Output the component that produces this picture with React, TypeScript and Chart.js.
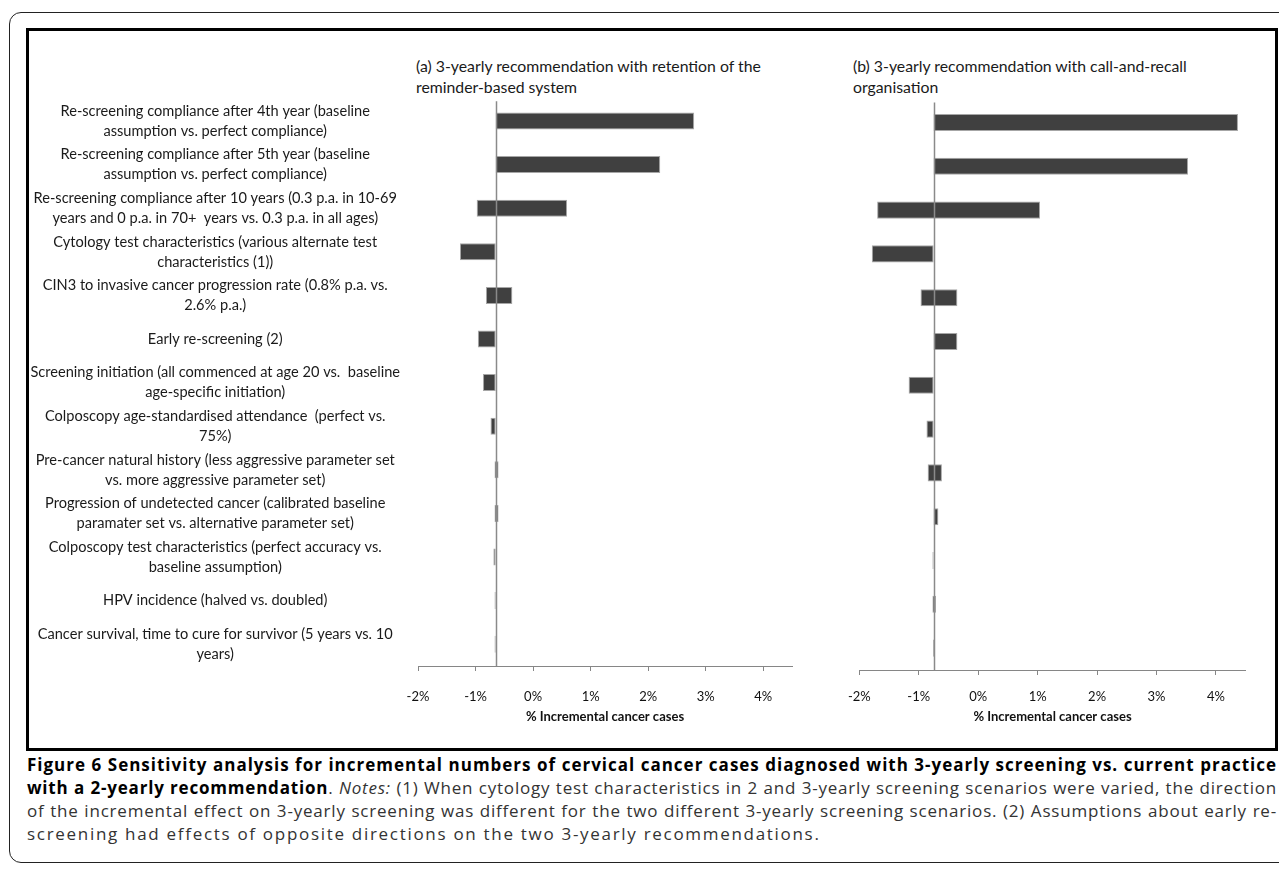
import React, { useEffect, useLayoutEffect, useRef } from 'react';
import { Chart, registerables } from 'chart.js';

Chart.register(...registerables);

// ---------- data ----------
const CATEGORIES: string[][] = [
  ['Re-screening compliance after 4th year (baseline', 'assumption vs. perfect compliance)'],
  ['Re-screening compliance after 5th year (baseline', 'assumption vs. perfect compliance)'],
  ['Re-screening compliance after 10 years (0.3 p.a. in 10-69', 'years and 0 p.a. in 70+  years vs. 0.3 p.a. in all ages)'],
  ['Cytology test characteristics (various alternate test', 'characteristics (1))'],
  ['CIN3 to invasive cancer progression rate (0.8% p.a. vs.', '2.6% p.a.)'],
  ['Early re-screening (2)'],
  ['Screening initiation (all commenced at age 20 vs.  baseline', 'age-specific initiation)'],
  ['Colposcopy age-standardised attendance  (perfect vs.', '75%)'],
  ['Pre-cancer natural history (less aggressive parameter set', 'vs. more aggressive parameter set)'],
  ['Progression of undetected cancer (calibrated baseline', 'paramater set vs. alternative parameter set)'],
  ['Colposcopy test characteristics (perfect accuracy vs.', 'baseline assumption)'],
  ['HPV incidence (halved vs. doubled)'],
  ['Cancer survival, time to cure for survivor (5 years vs. 10', 'years)'],
];

// (a) retention of the reminder-based system (% incremental cancer cases)
const A_BASE = -0.65;
const A_LOW = [-0.65, -0.65, -0.98, -1.27, -0.82, -0.96, -0.87, -0.74, -0.67, -0.67, -0.69, -0.67, -0.67];
const A_HIGH = [2.8, 2.21, 0.59, -0.65, -0.36, -0.65, -0.65, -0.65, -0.6, -0.6, -0.65, -0.65, -0.65];

// (b) call-and-recall organisation
const B_BASE = -0.75;
const B_LOW = [-0.75, -0.75, -1.7, -1.79, -0.97, -0.75, -1.17, -0.87, -0.85, -0.75, -0.77, -0.77, -0.76];
const B_HIGH = [4.37, 3.53, 1.04, -0.75, -0.35, -0.35, -0.75, -0.75, -0.61, -0.67, -0.75, -0.71, -0.745];

const X_MIN = -2;
const X_MAX = 4.5;
const X_STEP = 1;

const TITLE_A = ['(a) 3-yearly recommendation with retention of the', 'reminder-based system'];
const TITLE_B = ['(b) 3-yearly recommendation with call-and-recall', 'organisation'];
const X_TITLE = '% Incremental cancer cases';

const FONT = 'Lato, "Open Sans", sans-serif';

const baseLinePlugin = {
  id: 'baseLine',
  afterDatasetsDraw(chart: any, _args: any, opts: any) {
    const x = chart.scales.x.getPixelForValue(opts.value);
    const { top, bottom } = chart.chartArea;
    const ctx = chart.ctx;
    ctx.save();
    ctx.strokeStyle = opts.color || '#8a8a8a';
    ctx.lineWidth = opts.width || 1.5;
    ctx.beginPath();
    ctx.moveTo(Math.round(x) + 0.5, top + 2);
    ctx.lineTo(Math.round(x) + 0.5, bottom);
    ctx.stroke();
    ctx.restore();
  },
};

type TP = {
  low: number[];
  high: number[];
  base: number;
  showLabels: boolean;
  left: number;
  top: number;
  width: number;
  height: number;
  padding: { left: number; right: number; top: number; bottom: number };
  yWidth: number;
  xHeight: number;
  tickPad: number;
};

function Tornado(p: TP) {
  const ref = useRef<HTMLCanvasElement | null>(null);
  useEffect(() => {
    if (!ref.current) return;
    const data = p.low.map((l, i) => [l, p.high[i]]);
    const chart = new Chart(ref.current, {
      type: 'bar',
      data: {
        labels: CATEGORIES as any,
        datasets: [
          {
            data: data as any,
            backgroundColor: '#404040',
            borderColor: '#a6a6a6',
            borderWidth: 1,
            borderSkipped: false,
            categoryPercentage: 1,
            barPercentage: 0.39,
          },
        ],
      },
      options: {
        indexAxis: 'y',
        responsive: false,
        animation: false,
        devicePixelRatio: 1,
        layout: { padding: p.padding },
        plugins: {
          legend: { display: false },
          tooltip: { enabled: false },
          title: { display: false },
          baseLine: { value: p.base, color: '#8a8a8a', width: 1.5 },
        } as any,
        scales: {
          x: {
            type: 'linear',
            min: X_MIN,
            max: X_MAX,
            afterFit: (s: any) => {
              s.height = p.xHeight;
            },
            ticks: {
              stepSize: X_STEP,
              includeBounds: false,
              padding: p.tickPad,
              color: '#111',
              font: { family: FONT, size: 13 },
              callback: (v: any) => v + '%',
            },
            grid: {
              display: true,
              drawOnChartArea: false,
              drawTicks: true,
              tickLength: 5,
              color: '#868686',
            },
            border: { display: true, color: '#868686', width: 1 },
            title: {
              display: true,
              text: X_TITLE,
              color: '#111',
              font: { family: FONT, size: 13, weight: 'bold' },
              padding: { top: 0, bottom: 0 },
            },
          },
          y: {
            type: 'category',
            display: p.showLabels,
            afterFit: (s: any) => {
              s.width = p.yWidth;
              s.paddingTop = 0;
              s.paddingBottom = 0;
            },
            ticks: {
              crossAlign: 'center',
              padding: 18,
              color: '#1a1a1a',
              font: { family: FONT, size: 14.6, lineHeight: '20px' as any },
              autoSkip: false,
            },
            grid: { display: false, drawTicks: false },
            border: { display: false },
          },
        },
      },
      plugins: [baseLinePlugin],
    } as any);
    return () => chart.destroy();
  }, []);
  return (
    <div style={{ position: 'absolute', left: p.left, top: p.top, width: p.width, height: p.height }}>
      <canvas ref={ref} width={p.width} height={p.height} style={{ display: 'block' }} />
    </div>
  );
}

const titleStyle: React.CSSProperties = {
  position: 'absolute',
  fontFamily: FONT,
  fontSize: 15.8,
  lineHeight: '21px',
  color: '#1a1a1a',
  whiteSpace: 'nowrap',
};

const CAP_W = 1250;

const capLine: React.CSSProperties = {
  whiteSpace: 'nowrap',
  textAlign: 'justify',
  textAlignLast: 'justify' as any,
  height: 23,
  width: CAP_W,
};

function FitLine({ children, style, spacing }: { children: any; style: React.CSSProperties; spacing: number }) {
  const ref = useRef<HTMLDivElement | null>(null);
  useLayoutEffect(() => {
    const el = ref.current;
    if (!el) return;
    let ls = spacing;
    el.style.letterSpacing = ls + 'px';
    let guard = 0;
    while (el.scrollWidth > CAP_W && guard < 40) {
      ls -= 0.1;
      el.style.letterSpacing = ls + 'px';
      guard++;
    }
  }, []);
  return (
    <div ref={ref} style={{ ...style, letterSpacing: spacing }}>
      {children}
    </div>
  );
}

export default function App() {
  return (
    <div
      style={{
        position: 'fixed',
        left: 0,
        top: 0,
        width: 1279,
        height: 874,
        background: '#fff',
        overflow: 'hidden',
      }}
    >
      {/* outer rounded frame */}
      <div
        style={{
          position: 'absolute',
          left: 9,
          top: 12,
          width: 1320,
          height: 849,
          border: '1px solid #222',
          borderRadius: 12,
        }}
      />
      {/* inner thick frame */}
      <div
        style={{
          position: 'absolute',
          left: 26,
          top: 28,
          width: 1246,
          height: 717,
          border: '3px solid #000',
        }}
      />
      <div style={{ ...titleStyle, left: 416, top: 55 }}>
        {TITLE_A[0]}
        <br />
        {TITLE_A[1]}
      </div>
      <div style={{ ...titleStyle, left: 853, top: 55 }}>
        {TITLE_B[0]}
        <br />
        {TITLE_B[1]}
      </div>
      <Tornado
        low={A_LOW}
        high={A_HIGH}
        base={A_BASE}
        showLabels={true}
        left={10}
        top={90}
        width={795}
        height={650}
        padding={{ left: 0, right: 13, top: 9.2, bottom: 15.2 }}
        yWidth={408}
        xHeight={58.8}
        tickPad={18}
      />
      <Tornado
        low={B_LOW}
        high={B_HIGH}
        base={B_BASE}
        showLabels={false}
        left={830}
        top={90}
        width={440}
        height={650}
        padding={{ left: 29.3, right: 24.3, top: 10.6, bottom: 15 }}
        yWidth={0}
        xHeight={55}
        tickPad={14}
      />
      {/* caption */}
      <div
        style={{
          position: 'absolute',
          left: 27,
          top: 753,
          width: CAP_W,
          fontFamily: '"Open Sans", sans-serif',
          fontSize: 17,
          lineHeight: '23px',
          color: '#333',
        }}
      >
        <FitLine style={{ ...capLine, fontWeight: 'bold', color: '#000' }} spacing={1.3}>
          Figure 6 Sensitivity analysis for incremental numbers of cervical cancer cases diagnosed with 3-yearly screening vs. current practice
        </FitLine>
        <FitLine style={capLine} spacing={1.7}>
          <b style={{ color: '#000' }}>with a 2-yearly recommendation</b>. <i>Notes:</i> (1) When cytology test characteristics in 2 and 3-yearly screening scenarios were varied, the direction
        </FitLine>
        <FitLine style={capLine} spacing={1.7}>
          of the incremental effect on 3-yearly screening was different for the two different 3-yearly screening scenarios. (2) Assumptions about early re-
        </FitLine>
        <FitLine style={{ whiteSpace: 'nowrap', height: 23 }} spacing={1.7}>
          screening had effects of opposite directions on the two 3-yearly recommendations.
        </FitLine>
      </div>
    </div>
  );
}
